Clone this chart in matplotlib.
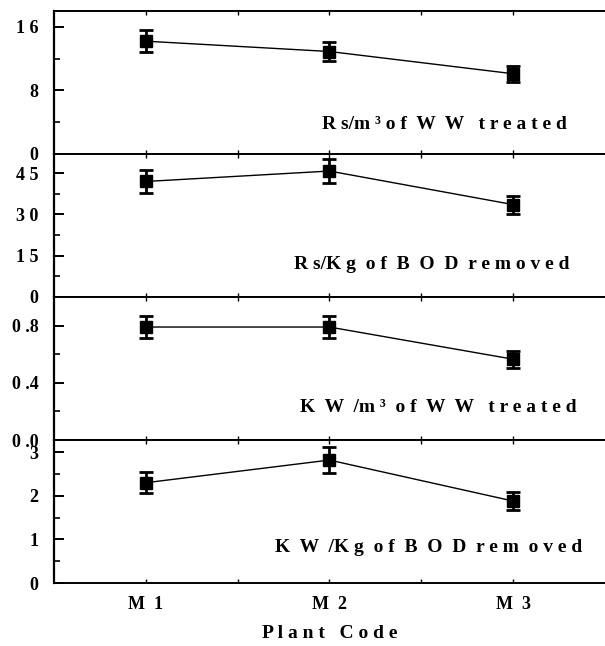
import numpy as np
import matplotlib.pyplot as plt
from matplotlib.ticker import FixedLocator

# Data
plants = ["M  1", "M  2", "M  3"]

rs_per_m3 = [14.2, 12.9, 10.1]
rs_per_m3_err = [1.4, 1.2, 1.0]

rs_per_kg_bod = [42.0, 45.8, 33.6]
rs_per_kg_bod_err = [4.1, 4.2, 3.3]

kw_per_m3 = [0.79, 0.79, 0.565]
kw_per_m3_err = [0.08, 0.08, 0.06]

kw_per_kg_bod = [2.30, 2.82, 1.88]
kw_per_kg_bod_err = [0.24, 0.30, 0.20]

panel_labels = [
    "R s/m \u00b3 o f  W  W   t r e a t e d",
    "R s/K g  o f  B  O  D  r e m o v e d",
    "K  W  /m \u00b3  o f  W  W   t r e a t e d",
    "K  W  /K g  o f  B  O  D  r e m  o v e d",
]
label_pos = [(0.931, 0.203), (0.936, 0.224), (0.949, 0.224), (0.958, 0.245)]
yticks_major = [[0, 8, 16], [0, 15, 30, 45], [0.0, 0.4, 0.8], [0, 1, 2, 3]]
ytick_labels = [["0", "8", "1 6"], ["0", "1 5", "3 0", "4 5"],
                ["0 .0", "0 .4", "0 .8"], ["0", "1", "2", "3"]]
yticks_minor = [[4, 12], [7.5, 22.5, 37.5], [0.2, 0.6], [0.5, 1.5, 2.5]]
ylims = [(0, 18), (0, 52), (0, 1.0), (0, 3.28)]

series = [(rs_per_m3, rs_per_m3_err), (rs_per_kg_bod, rs_per_kg_bod_err),
          (kw_per_m3, kw_per_m3_err), (kw_per_kg_bod, kw_per_kg_bod_err)]

serif = "Liberation Serif"
x = np.arange(1, len(plants) + 1)

fig, axes = plt.subplots(4, 1, figsize=(6.05, 6.46), dpi=100, sharex=True)
fig.subplots_adjust(left=0.089, right=1.0, top=0.983, bottom=0.0975, hspace=0)

for i, ax in enumerate(axes):
    vals, errs = series[i]
    ax.plot(x, vals, color="black", lw=1.0, zorder=2)
    ax.errorbar(x, vals, yerr=errs, fmt="s", color="black", ms=9,
                elinewidth=2, capsize=5, capthick=2, zorder=3, clip_on=False)
    ax.set_ylim(*ylims[i])
    ax.set_xlim(0.5, 3.5)

    ax.spines["right"].set_visible(False)
    ax.spines["left"].set_linewidth(1.6)
    ax.spines["bottom"].set_linewidth(1.4)
    ax.spines["top"].set_linewidth(1.4)

    ax.set_yticks(yticks_major[i])
    ax.set_yticklabels(ytick_labels[i], fontfamily=serif, fontweight="bold",
                       fontsize=13)
    ax.yaxis.set_minor_locator(FixedLocator(yticks_minor[i]))
    ax.tick_params(axis="y", which="major", direction="in", length=7.5,
                   width=1.4, pad=11)
    ax.tick_params(axis="y", which="minor", direction="in", length=4.5,
                   width=1.2)

    ax.set_xticks(x)
    ax.xaxis.set_minor_locator(FixedLocator([1.5, 2.5]))
    ax.tick_params(axis="x", which="both", direction="in", length=3,
                   width=1.0, top=True, bottom=True)

    lx, ly = label_pos[i]
    ax.text(lx, ly, panel_labels[i], transform=ax.transAxes,
            ha="right", va="center", fontfamily=serif, fontweight="bold",
            fontsize=14)

axes[-1].set_xticklabels(plants, fontfamily=serif, fontweight="bold",
                         fontsize=13)
axes[-1].tick_params(axis="x", pad=9)
axes[-1].set_xlabel("P l a n t   C o d e", fontfamily=serif,
                    fontweight="bold", fontsize=14, labelpad=9)

fig.savefig("out.png", dpi=100)
